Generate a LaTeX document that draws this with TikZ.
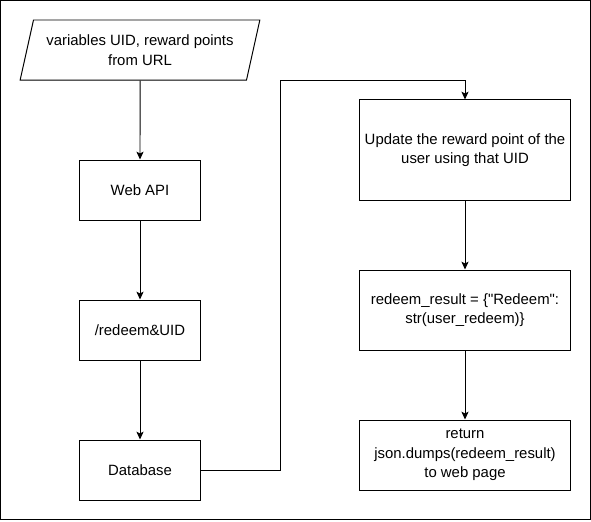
\documentclass[tikz,border=0pt]{standalone}
\usepackage{fontspec}
\setmainfont{Liberation Sans}
\usetikzlibrary{positioning, shapes.geometric, arrows.meta}
\tikzset{
	stepnode/.style={
			rectangle,
			draw=black,
			line width=0.7pt,
			fill=white,
			align=center,
			inner sep=2pt,
			font=\fontsize{10.6}{14}\selectfont
		},
	smallnode/.style={
			stepnode,
			minimum width=3cm,
			minimum height=1.5cm
		},
	widenode/.style={
			stepnode,
			minimum width=5.25cm
		},
	ionode/.style={
			stepnode,
			trapezium,
			trapezium left angle=71.57,
			trapezium right angle=108.43,
			trapezium stretches=true,
			minimum width=6cm,
			minimum height=1.5cm
		},
	flow/.style={
			line width=0.7pt,
			-{Stealth[length=5.5pt, width=5pt, inset=1.2pt]}
		}
}

\begin{document}
\begin{tikzpicture}[x=0.025cm, y=-0.025cm]
\useasboundingbox (0,0) rectangle (591,521);
\draw[line width=0.7pt] (0.5,0.5) rectangle (590.5,519.5);

\node[ionode] (inp) at (140,50) {variables UID, reward points\\from URL};
\node[smallnode] (api) at (140,190) {Web API};
\node[smallnode] (redeem) at (140,330) {/redeem\&UID};
\node[smallnode] (db) at (140,470) {Database};

\node[widenode, minimum height=2.5cm] (update) at (465,150) {Update the reward point of the\\user using that UID};
\node[widenode, minimum height=2cm] (result) at (465,310) {redeem\_result = \{\textquotedbl Redeem\textquotedbl:\\str(user\_redeem)\}};
\node[widenode, minimum height=1.75cm] (ret) at (465,455) {return\\json.dumps(redeem\_result)\\to web page};

\coordinate (bend) at (280,80);

\draw[flow] (inp) -- (api);
\draw[flow] (api) -- (redeem);
\draw[flow] (redeem) -- (db);
\draw[flow] (db.east) -| (bend) -| (update.north);
\draw[flow] (update) -- (result);
\draw[flow] (result) -- (ret);

\end{tikzpicture}
\end{document}
